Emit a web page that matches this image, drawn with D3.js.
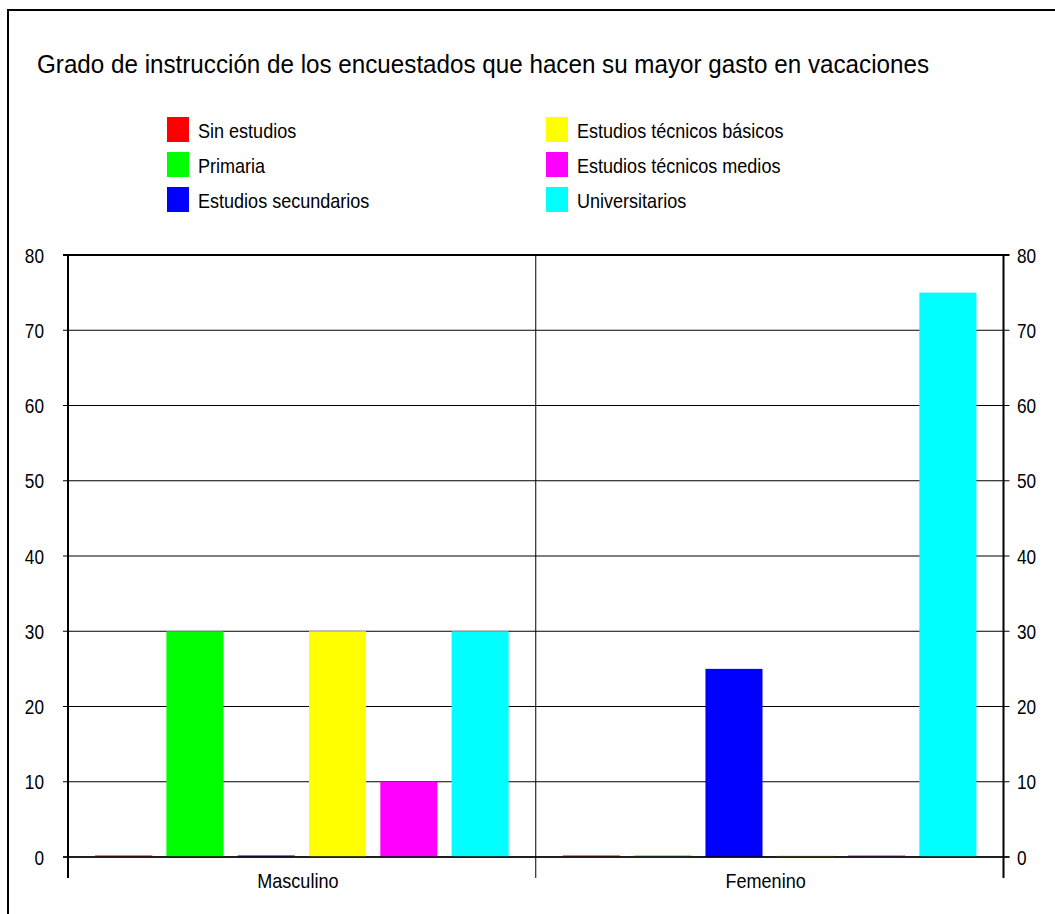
<!DOCTYPE html>
<html>
<head>
<meta charset="utf-8">
<script src="https://cdn.jsdelivr.net/npm/d3@7"></script>
<style>
  html, body { margin: 0; padding: 0; background: #fff; }
  svg { display: block; font-family: "Liberation Sans", Arial, sans-serif; }
</style>
</head>
<body>
<svg id="chart" width="1055" height="914"></svg>
<script>
// Chart content
const title = "Grado de instrucción de los encuestados que hacen su mayor gasto en vacaciones";
const categories = ["Masculino", "Femenino"];
const seriesNames = [
  "Sin estudios", "Primaria", "Estudios secundarios",
  "Estudios técnicos básicos", "Estudios técnicos medios", "Universitarios"
];
const seriesColors = ["#ff0000", "#00ff00", "#0000ff", "#ffff00", "#ff00ff", "#00ffff"];
// values[s][c]: series s, category c
const sinEstudios = [0, 0];
const primaria = [30, 0];
const secundarios = [0, 25];
const tecnicosBasicos = [30, 0];
const tecnicosMedios = [10, 0];
const universitarios = [30, 75];
const values = [sinEstudios, primaria, secundarios, tecnicosBasicos, tecnicosMedios, universitarios];
const yTicks = [0, 10, 20, 30, 40, 50, 60, 70, 80];

const svg = d3.select("#chart");

// Narrow text: draws a label at (x, y) squeezed horizontally
function narrowText(parent, x, y, str, size, sx, anchor) {
  return parent.append("text")
    .attr("transform", `translate(${x},${y}) scale(${sx},1)`)
    .attr("font-size", size)
    .attr("text-anchor", anchor || "start")
    .attr("fill", "#000")
    .text(str);
}

// Outer frame
svg.append("rect")
  .attr("x", 8).attr("y", 10).attr("width", 1100).attr("height", 1000)
  .attr("fill", "none").attr("stroke", "#000").attr("stroke-width", 2);

// Title
svg.append("text")
  .attr("x", 37).attr("y", 73)
  .attr("font-size", 25)
  .attr("textLength", 892)
  .attr("lengthAdjust", "spacingAndGlyphs")
  .attr("fill", "#000")
  .text(title);

// Legend: two columns of three
const legend = svg.append("g");
seriesNames.forEach((name, i) => {
  const col = Math.floor(i / 3), row = i % 3;
  const gx = col === 0 ? 167 : 546;
  const gy = 117 + row * 35;
  legend.append("rect")
    .attr("x", gx).attr("y", gy).attr("width", 22).attr("height", 25)
    .attr("fill", seriesColors[i]);
  narrowText(legend, gx + 31, gy + 21, name, 20.5, 0.88);
});

// Plot area
const plot = { left: 68, right: 1003.5, top: 255, bottom: 857 };

const x0 = d3.scaleBand().domain(categories).range([plot.left, plot.right]).padding(0);
const x1 = d3.scaleBand().domain(d3.range(seriesNames.length))
  .range([0, x0.bandwidth()]).paddingInner(0.2).paddingOuter(0.38);
const y = d3.scaleLinear().domain([0, 80]).range([plot.bottom, plot.top]);

// Horizontal gridlines across the plot, with outer ticks on both sides
const grid = svg.append("g");
yTicks.forEach(t => {
  grid.append("line")
    .attr("x1", plot.left - 5).attr("x2", plot.right + 6)
    .attr("y1", y(t)).attr("y2", y(t))
    .attr("stroke", "#000").attr("stroke-width", t === 80 ? 2 : 1);
});

// Value labels on both sides
const tickLabels = svg.append("g");
yTicks.forEach(t => {
  narrowText(tickLabels, 44, y(t) + 7.5, String(t), 20.5, 0.84, "end");
  narrowText(tickLabels, 1017, y(t) + 7.5, String(t), 20.5, 0.84, "start");
});

// Category boundary lines extending below the baseline
const bounds = [plot.left, x0(categories[1]), plot.right];
bounds.forEach((bx, i) => {
  svg.append("line")
    .attr("x1", bx).attr("x2", bx)
    .attr("y1", plot.top).attr("y2", plot.bottom + 21)
    .attr("stroke", "#000").attr("stroke-width", i === 1 ? 1 : 2);
});

// Bars
const barData = [];
categories.forEach((c, ci) => {
  seriesNames.forEach((s, si) => {
    barData.push({ cat: c, series: si, value: values[si][ci] });
  });
});

svg.append("g").selectAll("rect")
  .data(barData)
  .join("rect")
  .attr("x", d => x0(d.cat) + x1(d.series))
  .attr("width", x1.bandwidth())
  .attr("y", d => d.value > 0 ? y(d.value) : y(0) - 2)
  .attr("height", d => d.value > 0 ? y(0) - y(d.value) : 2)
  .attr("fill", d => seriesColors[d.series])
  .attr("opacity", d => d.value > 0 ? 1 : 0.55);

// Baseline redrawn on top of the bars
svg.append("line")
  .attr("x1", plot.left - 5).attr("x2", plot.right + 6)
  .attr("y1", y(0)).attr("y2", y(0))
  .attr("stroke", "#000").attr("stroke-width", 1.5);

// Category labels
const catLabels = svg.append("g");
categories.forEach(c => {
  narrowText(catLabels, x0(c) + x0.bandwidth() / 2 - 4, 888, c, 20.5, 0.88, "middle");
});
</script>
</body>
</html>
